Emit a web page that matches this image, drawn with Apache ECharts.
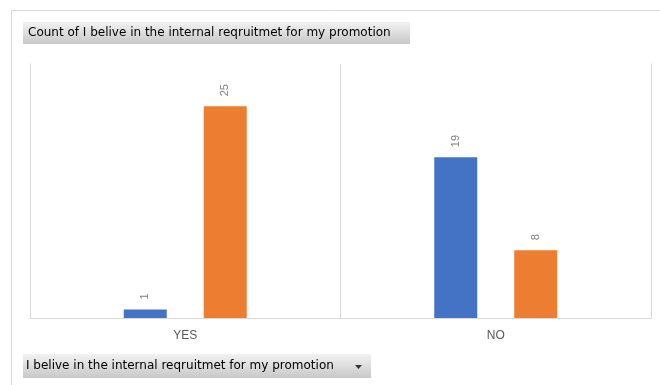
<!DOCTYPE html>
<html><head><meta charset="utf-8">
<script src="https://cdn.jsdelivr.net/npm/echarts@6/dist/echarts.min.js"></script>
<style>html,body{margin:0;padding:0;background:#fff}#c{width:660px;height:385px}</style>
</head><body><div id="c"></div>
<script>
const categories = ['YES', 'NO'];
const seriesA = [1, 19];
const seriesB = [25, 8];
const titleText = 'Count of I belive in the internal reqruitmet for my promotion';
const fieldText = 'I belive in the internal reqruitmet for my promotion';

const chart = echarts.init(document.getElementById('c'));
const font = '"DejaVu Sans", "Noto Sans", sans-serif';
const btnFill = new echarts.graphic.LinearGradient(0, 0, 0, 1, [
  {offset: 0, color: '#f2f2f2'}, {offset: 1, color: '#c8c8c8'}
]);
const label = {
  show: true, position: 'top', rotate: 90, align: 'left', verticalAlign: 'middle',
  distance: 10, color: '#7f7f7f', fontSize: 11, fontFamily: '"Liberation Sans", Arial, sans-serif'
};
const edge = {show: true, lineStyle: {color: '#d9d9d9', width: 1}};
chart.setOption({
  animation: false,
  grid: {left: 30, right: 9, top: 64, bottom: 67},
  xAxis: {
    type: 'category', data: categories,
    axisLine: {show: true, lineStyle: {color: '#d9d9d9', width: 1}},
    axisTick: {show: false},
    splitLine: {show: true, interval: 0, lineStyle: {color: '#d9d9d9'}},
    axisLabel: {color: '#595959', fontSize: 12, margin: 12, fontFamily: '"Liberation Sans", Arial, sans-serif'}
  },
  yAxis: [
    {type: 'value', min: 0, max: 30, position: 'left', axisLine: edge, axisTick: {show: false}, axisLabel: {show: false}, splitLine: {show: false}},
    {type: 'value', min: 0, max: 30, position: 'right', axisLine: edge, axisTick: {show: false}, axisLabel: {show: false}, splitLine: {show: false}}
  ],
  series: [
    {type: 'bar', data: seriesA, barWidth: 43, barGap: '86%', itemStyle: {color: '#4472c4'}, label: label},
    {type: 'bar', data: seriesB, barWidth: 43, barGap: '86%', itemStyle: {color: '#ed7d31'}, label: label}
  ],
  graphic: [
    {type: 'line', shape: {x1: 11, y1: 10.5, x2: 660, y2: 10.5}, style: {stroke: '#d9d9d9', lineWidth: 1}},
    {type: 'line', shape: {x1: 11.5, y1: 10, x2: 11.5, y2: 385}, style: {stroke: '#d9d9d9', lineWidth: 1}},
    {type: 'group', left: 23, top: 22, children: [
      {type: 'rect', shape: {x: 0, y: 0, width: 387, height: 22}, style: {fill: btnFill}},
      {type: 'text', x: 5, y: 11, style: {text: titleText, fill: '#000', fontSize: 12, fontFamily: font, verticalAlign: 'middle'}}
    ]},
    {type: 'group', left: 23, top: 354, children: [
      {type: 'rect', shape: {x: 0, y: 0, width: 348, height: 24}, style: {fill: btnFill}},
      {type: 'text', x: 3, y: 12, style: {text: fieldText, fill: '#000', fontSize: 12, fontFamily: font, verticalAlign: 'middle'}},
      {type: 'polygon', shape: {points: [[332, 11], [339, 11], [335.5, 15]]}, style: {fill: '#333'}}
    ]}
  ]
});
</script></body></html>
